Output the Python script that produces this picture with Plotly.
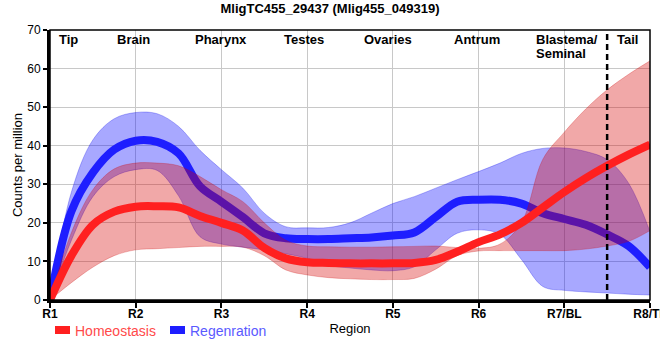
import plotly.graph_objects as go

# ---------------- data ----------------
title_text = "MligTC455_29437 (Mlig455_049319)"
region_ticks = ["R1", "R2", "R3", "R4", "R5", "R6", "R7/BL", "R8/TL"]
region_tick_pos = [1, 2, 3, 4, 5, 6, 7, 8]

tissue_labels = ["Tip", "Brain", "Pharynx", "Testes", "Ovaries", "Antrum", "Blastema/", "Seminal", "Tail"]
tissue_label_x = [1.22, 1.97, 3.0, 3.96, 4.94, 5.98, 6.65, 6.65, 7.74]

series_names = ["Homeostasis", "Regenration"]

x_pos = [1, 1.25, 1.5, 1.75, 2, 2.25, 2.5, 2.75, 3, 3.25, 3.5, 3.75, 4, 4.25, 4.5,
         4.75, 5, 5.25, 5.5, 5.75, 6, 6.25, 6.5, 6.75, 7, 7.25, 7.5, 7.75, 8]

homeo_mean = [0, 11.5, 19.5, 22.9, 24.2, 24.3, 24.0, 21.8, 20.0, 18.0, 13.5, 10.8, 9.8, 9.6, 9.5,
              9.5, 9.5, 9.6, 10.4, 12.5, 15.0, 17.0, 20.0, 24.0, 28.0, 31.6, 34.8, 37.7, 40.3]
homeo_upper = [0, 17.5, 28.6, 34.0, 35.5, 35.5, 34.8, 32.0, 28.6, 25.5, 20.0, 15.5, 14.0, 13.8, 13.7,
               13.7, 13.8, 13.9, 14.0, 13.6, 13.4, 14.5, 20.0, 36.5, 43.5, 49.5, 54.5, 58.5, 62.0]
homeo_lower = [0, 4.5, 8.5, 11.5, 13.0, 13.3, 13.6, 13.9, 13.9, 13.7, 11.5, 7.8, 6.5, 5.8, 5.5,
               5.3, 5.3, 5.6, 8.0, 11.5, 12.7, 12.8, 12.8, 12.8, 12.8, 13.2, 14.0, 15.2, 18.0]

regen_mean = [0, 23.0, 33.0, 39.0, 41.3, 41.0, 38.0, 29.5, 25.5, 21.5, 17.3, 16.0, 15.8, 15.8, 16.0,
              16.2, 16.7, 17.5, 21.5, 25.5, 26.0, 26.0, 25.0, 22.5, 21.0, 19.5, 17.0, 14.0, 8.5]
regen_upper = [0, 28.0, 41.5, 47.0, 48.6, 48.3, 45.0, 38.8, 33.8, 29.0, 22.5, 19.0, 18.7, 18.8, 20.0,
               22.5, 25.0, 26.8, 29.0, 31.2, 33.3, 35.5, 38.0, 39.3, 39.4, 38.5, 36.4, 30.3, 17.7]
regen_lower = [0, 15.5, 26.8, 32.0, 33.8, 33.6, 27.0, 16.4, 14.5, 13.7, 13.0, 12.0, 10.8, 9.0, 8.3,
               7.8, 7.6, 8.6, 13.0, 17.3, 18.2, 17.0, 10.5, 3.5, 2.5, 2.1, 1.8, 1.5, 1.3]

blastema_tail_boundary = 7.5

# ---------------- figure ----------------
FONT = "Liberation Sans, Arial, sans-serif"
RED_LINE = "rgb(255,32,32)"
BLUE_LINE = "rgb(30,30,255)"
fig = go.Figure()

# Regeneration band + line
fig.add_trace(go.Scatter(x=x_pos, y=regen_upper, mode="lines",
                         line=dict(shape="spline", width=0.8, color="rgba(0,0,230,0.35)"),
                         showlegend=False, hoverinfo="skip"))
fig.add_trace(go.Scatter(x=x_pos, y=regen_lower, mode="lines", fill="tonexty", fillcolor="rgba(0,0,255,0.34)",
                         line=dict(shape="spline", width=0.8, color="rgba(0,0,230,0.35)"),
                         showlegend=False, hoverinfo="skip"))
fig.add_trace(go.Scatter(x=x_pos, y=regen_mean, mode="lines", name=series_names[1],
                         line=dict(shape="spline", width=8, color=BLUE_LINE), showlegend=False))

# Homeostasis band + line
fig.add_trace(go.Scatter(x=x_pos, y=homeo_upper, mode="lines",
                         line=dict(shape="spline", width=0.8, color="rgba(200,0,0,0.3)"),
                         showlegend=False, hoverinfo="skip"))
fig.add_trace(go.Scatter(x=x_pos, y=homeo_lower, mode="lines", fill="tonexty", fillcolor="rgba(215,0,0,0.34)",
                         line=dict(shape="spline", width=0.8, color="rgba(200,0,0,0.3)"),
                         showlegend=False, hoverinfo="skip"))
fig.add_trace(go.Scatter(x=x_pos, y=homeo_mean, mode="lines", name=series_names[0],
                         line=dict(shape="spline", width=8, color=RED_LINE), showlegend=False))

# tissue labels
annotations = []
for lab, xv in zip(tissue_labels, tissue_label_x):
    if lab == "Seminal":
        annotations.append(dict(x=xv, y=70, xref="x", yref="y", text="<b>%s</b>" % lab, showarrow=False,
                                xanchor="left", yanchor="top", yshift=-14, font=dict(size=13, color="black", family=FONT)))
    elif lab == "Blastema/":
        annotations.append(dict(x=xv, y=70, xref="x", yref="y", text="<b>%s</b>" % lab, showarrow=False,
                                xanchor="left", yanchor="top", font=dict(size=13, color="black", family=FONT)))
    else:
        annotations.append(dict(x=xv, y=70, xref="x", yref="y", text="<b>%s</b>" % lab, showarrow=False,
                                xanchor="center", yanchor="top", font=dict(size=13, color="black", family=FONT)))

# manual legend (pixel -> paper conversion; plot area is 50..650 x 30..300)
def px_x(p):
    return (p - 50) / 600.0

def px_y(p):
    return (300 - p) / 270.0

legend_items = [(series_names[0], RED_LINE, "#ff4a4a", 55), (series_names[1], BLUE_LINE, "#5a5aff", 170)]
shapes = []
for name, col, tcol, left in legend_items:
    shapes.append(dict(type="rect", xref="paper", yref="paper", x0=px_x(left), x1=px_x(left + 15),
                       y0=px_y(334), y1=px_y(326), fillcolor=col, line=dict(width=0)))
    annotations.append(dict(x=px_x(left + 18), y=px_y(331), xref="paper", yref="paper", text=name,
                            showarrow=False, xanchor="left", yanchor="middle",
                            font=dict(size=14, color=tcol, family=FONT)))

shapes += [
    dict(type="line", xref="x", yref="y", x0=blastema_tail_boundary, x1=blastema_tail_boundary, y0=0, y1=70,
         line=dict(color="black", width=2.5, dash="6px,4px")),
    dict(type="rect", xref="paper", yref="paper", x0=0, x1=1, y0=0, y1=1, line=dict(color="black", width=1.5)),
]

fig.update_layout(
    width=660, height=360,
    margin=dict(l=50, r=10, t=30, b=60, autoexpand=False),
    paper_bgcolor="white", plot_bgcolor="white",
    title=dict(text="<b>%s</b>" % title_text, x=0.5, xanchor="center", y=0.99, yanchor="top",
               font=dict(size=13, color="black", family=FONT)),
    font=dict(family=FONT, color="black"),
    showlegend=False,
    annotations=annotations,
    shapes=shapes,
)

fig.update_xaxes(range=[1, 8], tickvals=region_tick_pos, ticktext=["<b>%s</b>" % t for t in region_ticks],
                 tickfont=dict(size=12, color="black", family=FONT), automargin=False,
                 ticklabeloverflow="allow", ticklabelstandoff=-4,
                 showgrid=True, gridcolor="#c8c8c8", gridwidth=1, zeroline=False,
                 showline=True, linecolor="black", linewidth=3,
                 ticks="outside", ticklen=5, tickwidth=2, tickcolor="black",
                 title=dict(text="Region", font=dict(size=13, color="black", family=FONT), standoff=4))
fig.update_yaxes(range=[0, 70], tickvals=[0, 10, 20, 30, 40, 50, 60, 70],
                 tickfont=dict(size=12, color="black", family=FONT), automargin=False,
                 showgrid=True, gridcolor="#c8c8c8", gridwidth=1, zeroline=False,
                 showline=True, linecolor="black", linewidth=3,
                 ticks="outside", ticklen=4, tickwidth=1.5, tickcolor="black",
                 title=dict(text="Counts per million", font=dict(size=13, color="black", family=FONT), standoff=2))

fig.write_html("out.html", config={"displayModeBar": False},
               post_script="document.body.style.margin='0';")
